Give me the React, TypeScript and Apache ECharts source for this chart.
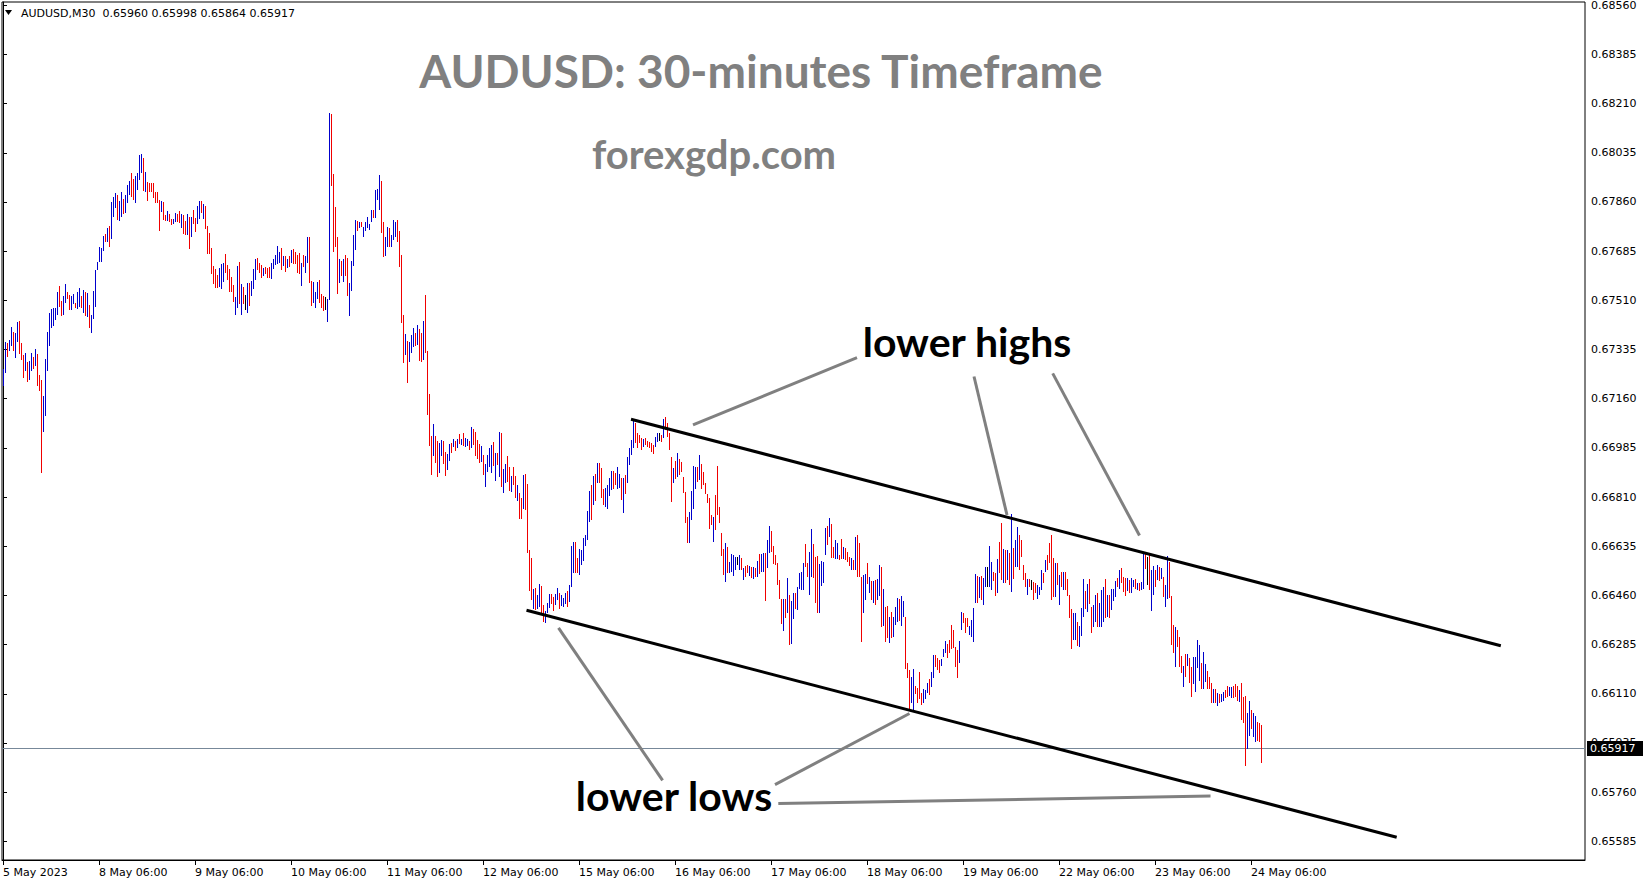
import React, { useEffect, useRef } from "react";
import * as echarts from "echarts";

// Prices are stored in points (0.00001) above PRICE_BASE.
const PRICE_BASE = 0.65;
const POINT = 0.00001;

const highs = [
  2265,2360,2358,2369,2414,2397,2393,2432,2437,2358,
  2316,2322,2292,2295,2322,2310,2336,2320,2244,2227,
  2170,2301,2397,2464,2479,2482,2482,2541,2562,2507,
  2524,2567,2541,2528,2526,2533,2500,2540,2553,2527,
  2547,2540,2535,2494,2458,2543,2618,2645,2699,2696,
  2739,2745,2767,2775,2860,2877,2891,2885,2864,2897,
  2870,2885,2921,2936,2962,2941,2951,2962,3028,3031,
  3016,2968,2930,2929,2927,2927,2897,2895,2868,2864,
  2859,2814,2828,2818,2800,2800,2820,2818,2828,2818,
  2814,2794,2818,2805,2807,2832,2802,2847,2864,2864,
  2852,2846,2775,2749,2698,2633,2622,2600,2626,2639,
  2644,2675,2634,2621,2594,2565,2521,2632,2645,2568,
  2559,2529,2573,2571,2579,2621,2656,2660,2644,2636,
  2626,2630,2624,2628,2642,2656,2672,2704,2683,2695,
  2666,2666,2657,2666,2689,2692,2683,2672,2680,2644,
  2672,2668,2736,2736,2580,2577,2541,2577,2583,2532,
  2526,2523,2514,3176,3173,2960,2843,2734,2657,2650,
  2657,2672,2660,2571,2650,2743,2796,2794,2788,2790,
  2772,2788,2808,2782,2832,2832,2903,2905,2956,2935,
  2787,2737,2772,2766,2743,2796,2790,2796,2755,2672,
  2458,2390,2366,2362,2387,2411,2395,2422,2408,2395,
  2436,2529,2330,2177,2027,2070,2027,2011,2004,2013,
  2010,1972,1963,1999,2004,2016,2011,2016,2034,2016,
  2037,2021,2016,2011,2058,2052,2043,2013,1999,1992,
  1960,1928,1960,1983,1995,2005,1966,1966,2040,2037,
  1909,1928,1956,1918,1885,1916,1885,1853,1823,1808,
  1889,1892,1857,1622,1592,1482,1485,1462,1501,1494,
  1426,1406,1432,1465,1465,1456,1465,1485,1470,1462,
  1450,1470,1477,1497,1636,1651,1651,1592,1624,1622,
  1663,1675,1762,1833,1853,1885,1892,1932,1932,1912,
  1838,1841,1853,1877,1904,1904,1895,1918,1892,1877,
  1877,1889,1954,1983,2013,2087,2072,2037,2031,2019,
  2015,2019,2010,2007,2001,1995,2025,2037,2037,2031,
  2087,2096,2072,2037,1954,1912,1938,1968,1946,1936,
  1883,1829,1738,1758,1833,1921,1918,1918,1960,1927,
  1900,1859,1821,1806,1746,1738,1817,1921,1776,1683,
  1624,1646,1634,1580,1606,1603,1596,1598,1604,1592,
  1557,1565,1568,1565,1562,1560,1557,1583,1607,1607,
  1610,1612,1657,1707,1690,1637,1604,1574,1515,1447,
  1446,1446,1521,1462,1441,1470,1470,1489,1541,1543,
  1577,1643,1577,1616,1697,1643,1598,1600,1572,1584,
  1580,1701,1707,1734,1714,1634,1657,1646,1604,1660,
  1634,1628,1616,1598,1592,1586,1669,1675,1645,1527,
  1533,1536,1576,1524,1512,1512,1515,1517,1568,1562,
  1483,1420,1422,1384,1402,1384,1420,1450,1446,1458,
  1441,1384,1218,1195,1168,1198,1138,1129,1189,1112,
  1126,1123,1147,1161,1189,1248,1248,1236,1230,1234,
  1268,1299,1287,1301,1355,1337,1278,1266,1299,1402,
  1399,1378,1378,1351,1372,1414,1536,1529,1524,1529,
  1521,1560,1560,1636,1580,1544,1538,1588,1651,1716,
  1624,1622,1622,1610,1750,1628,1657,1705,1675,1657,
  1568,1541,1517,1517,1515,1509,1505,1497,1491,1550,
  1538,1586,1604,1645,1675,1592,1576,1576,1533,1544,
  1544,1544,1517,1461,1410,1396,1399,1367,1351,1414,
  1517,1477,1501,1517,1418,1426,1461,1470,1432,1479,
  1491,1517,1461,1461,1482,1482,1512,1521,1550,1556,
  1524,1521,1521,1515,1521,1515,1517,1505,1505,1509,
  1612,1607,1598,1604,1550,1565,1550,1568,1560,1556,
  1524,1497,1600,1580,1458,1355,1346,1337,1313,1244,
  1209,1251,1251,1236,1206,1242,1240,1301,1284,1218,
  1260,1216,1192,1171,1149,1126,1126,1114,1109,1109,
  1117,1123,1138,1133,1133,1138,1145,1138,1123,1149,
  1100,1102,1043,1085,1052,1043,1031,1011,1007,998,
];

const lows = [
  2206,2251,2310,2331,2346,2329,2305,2360,2320,2298,
  2232,2260,2221,2227,2260,2267,2275,2206,2189,1897,
  2040,2099,2260,2346,2410,2419,2441,2458,2488,2456,
  2458,2501,2514,2476,2476,2497,2482,2479,2488,2482,
  2464,2455,2452,2413,2395,2444,2488,2618,2645,2648,
  2684,2716,2716,2701,2730,2808,2840,2796,2793,2808,
  2819,2820,2856,2885,2879,2868,2858,2903,2939,2962,
  2900,2896,2862,2894,2894,2873,2856,2856,2758,2826,
  2796,2794,2794,2790,2779,2781,2790,2790,2784,2767,
  2747,2743,2743,2693,2737,2782,2752,2782,2800,2820,
  2800,2764,2675,2675,2604,2569,2553,2553,2559,2551,
  2577,2606,2583,2541,2541,2505,2458,2482,2497,2458,
  2497,2476,2466,2490,2526,2549,2583,2618,2609,2591,
  2597,2604,2591,2591,2586,2621,2634,2639,2644,2618,
  2632,2610,2624,2630,2642,2639,2638,2609,2604,2562,
  2630,2606,2644,2573,2491,2502,2484,2514,2500,2484,
  2473,2476,2434,2511,2917,2683,2701,2533,2573,2597,
  2577,2597,2526,2454,2545,2632,2689,2757,2766,2770,
  2737,2757,2766,2760,2787,2802,2802,2867,2832,2749,
  2663,2666,2701,2701,2699,2725,2737,2719,2628,2431,
  2288,2317,2217,2292,2324,2345,2347,2352,2295,2292,
  2298,2324,2103,1993,1889,1956,1932,1883,1897,1956,
  1928,1886,1906,1938,1966,1987,1975,1986,1999,1995,
  1992,1989,1992,1978,1983,1995,1957,1946,1932,1934,
  1889,1847,1900,1918,1897,1921,1868,1924,1883,1847,
  1826,1859,1863,1833,1829,1853,1806,1797,1731,1731,
  1768,1764,1610,1477,1444,1411,1408,1411,1418,1396,
  1367,1361,1396,1414,1428,1406,1426,1444,1411,1423,
  1418,1428,1418,1438,1491,1541,1541,1541,1533,1568,
  1584,1636,1657,1720,1728,1782,1797,1859,1859,1806,
  1780,1774,1768,1814,1835,1838,1853,1839,1841,1800,
  1752,1821,1859,1924,1960,1983,2001,1983,2001,1977,
  1989,1995,1989,1983,1971,1963,1989,2007,2010,2007,
  2019,2049,2025,1977,1794,1861,1873,1883,1889,1900,
  1826,1717,1648,1648,1729,1767,1838,1865,1871,1838,
  1853,1820,1788,1695,1711,1651,1693,1746,1719,1600,
  1533,1509,1541,1539,1545,1529,1551,1568,1551,1551,
  1515,1527,1539,1529,1521,1517,1525,1527,1536,1545,
  1545,1441,1557,1610,1616,1572,1568,1497,1446,1358,
  1335,1379,1396,1284,1287,1375,1410,1408,1482,1480,
  1480,1562,1527,1462,1527,1521,1432,1396,1396,1494,
  1503,1604,1640,1669,1592,1592,1589,1589,1586,1589,
  1589,1586,1580,1565,1550,1550,1550,1527,1527,1295,
  1396,1444,1501,1467,1444,1434,1426,1444,1458,1346,
  1351,1295,1307,1292,1307,1313,1355,1367,1370,1351,
  1384,1197,1165,1052,1076,1050,1109,1076,1090,1070,
  1076,1090,1112,1106,1135,1165,1206,1195,1183,1209,
  1242,1254,1236,1254,1268,1272,1206,1165,1218,1337,
  1363,1327,1346,1319,1313,1295,1432,1432,1450,1444,
  1426,1491,1491,1489,1479,1512,1458,1467,1538,1515,
  1503,1503,1515,1497,1473,1517,1560,1562,1550,1598,
  1515,1491,1461,1491,1479,1444,1467,1446,1461,1479,
  1505,1544,1550,1576,1444,1455,1453,1497,1426,1491,
  1479,1479,1458,1381,1268,1301,1301,1280,1275,1316,
  1382,1410,1402,1429,1327,1349,1367,1349,1346,1349,
  1367,1378,1382,1378,1408,1441,1453,1489,1482,1505,
  1473,1458,1477,1470,1467,1489,1482,1479,1477,1479,
  1482,1553,1497,1479,1406,1461,1491,1515,1512,1517,
  1453,1418,1446,1450,1284,1254,1206,1278,1206,1183,
  1133,1171,1209,1147,1100,1145,1117,1200,1157,1126,
  1126,1153,1126,1126,1076,1076,1076,1066,1076,1082,
  1085,1094,1100,1102,1094,1094,1097,1085,1082,1017,
  1005,853,912,960,983,957,940,943,940,864,
];

// one letter per bar: u = bullish (blue), d = bearish (red), n = unchanged (black)
const dirs = [
  "uuduuduudd","duduududdd","uuuuuuuudd","uudduuduud","ududuuuuuu",
  "ududuuuduu","duuudduuuu","dudddddddu","ddudduuddu","ddududduud",
  "uddddddduu","uddddduudu","dnuduuuddd","uddduuuuud","udududdddu",
  "duudduuudd","dnuuddddud","udduuuudud","uuuuuduuud","duuduuuddd",
  "duduuududd","uddddudduu","dduudududu","duududdddu","duuuududud",
  "uudduddudd","udddduduud","duuudduudu","uuduuudduu","uuuudududd",
  "duuuudduud","uduuuudddd","uddddduund","uddddududd","ddduuuudud",
  "dddddudddd","duduuuunud","uddudududu","uduudddddd","ududuuduuu",
  "udduuddduu","uududduudd","udddududdd","uudududuud","udduduuudu",
  "uddduudddd","uuuduudddu","uudddddduu","ddduuuudud","uunuuddudd",
  "udududuudd","ddudndduuu","duddddudud","udddduuduu","ududduuduu",
  "ududuuudud","dduduududu","udnduududu","duuddduddd","ududduuuud",
  "uudddududu","udduudddud","dduuduuddd",
];

const tickIndex = [0, 48, 96, 144, 192, 240, 288, 336, 384, 432, 480, 528, 576, 624];
const tickLabels = [
  "5 May 2023", "8 May 06:00", "9 May 06:00", "10 May 06:00", "11 May 06:00",
  "12 May 06:00", "15 May 06:00", "16 May 06:00", "17 May 06:00", "18 May 06:00",
  "19 May 06:00", "22 May 06:00", "23 May 06:00", "24 May 06:00",
];

const priceTicks = [
  0.6856, 0.68385, 0.6821, 0.68035, 0.6786, 0.67685, 0.6751, 0.67335, 0.6716,
  0.66985, 0.6681, 0.66635, 0.6646, 0.66285, 0.6611, 0.65935, 0.6576, 0.65585,
];

const lastBar = { open: 0.6596, high: 0.65998, low: 0.65864, close: 0.65917 };

// channel lines: [bar index, price]
const upperChannel = [[314, 0.670867], [748.9, 0.662811]];
const lowerChannel = [[261.75, 0.664071], [696.85, 0.655997]];

const X_MIN = -0.5;
const X_MAX = 791;

const UP = "#0000cc";
const DOWN = "#f00000";
const FLAT = "#000000";

export default function App() {
  const ref = useRef<HTMLDivElement>(null);

  useEffect(() => {
    if (!ref.current) return;
    const chart = echarts.init(ref.current, null, { renderer: "svg" });
    const dirString = dirs.join("");
    const barData = highs.map((h, i) => {
      const c = dirString[i];
      return [
        i,
        Number((PRICE_BASE + lows[i] * POINT).toFixed(5)),
        Number((PRICE_BASE + h * POINT).toFixed(5)),
        c === "u" ? 1 : c === "d" ? -1 : 0,
      ];
    });

    const renderBar = (params: any, api: any) => {
      const i = api.value(0);
      const lo = api.value(1);
      const hi = api.value(2);
      const code = api.value(3);
      const top = api.coord([i, hi]);
      const bottom = api.coord([i, lo]);
      const x = Math.floor(top[0] + 0.01) + 0.5;
      const y1 = Math.round(top[1]);
      const y2 = Math.max(y1 + 1, Math.round(bottom[1]));
      return {
        type: "line",
        shape: { x1: x, y1, x2: x, y2 },
        style: { stroke: code > 0 ? UP : code < 0 ? DOWN : FLAT, lineWidth: 1, lineCap: "butt" },
      };
    };

    const fmt = (v: number) => v.toFixed(5);
    const header = `AUDUSD,M30  ${fmt(lastBar.open)} ${fmt(lastBar.high)} ${fmt(lastBar.low)} ${fmt(lastBar.close)}`;

    const gray = "#808080";
    const annot = (x1: number, y1: number, x2: number, y2: number) => ({
      type: "line",
      z: 20,
      shape: { x1, y1, x2, y2 },
      style: { stroke: gray, lineWidth: 3 },
    });

    chart.setOption({
      animation: false,
      backgroundColor: "#ffffff",
      grid: {
        left: 2,
        top: 2,
        right: 64,
        bottom: 24,
        show: true,
        borderColor: "#000",
        borderWidth: 1,
        containLabel: false,
        outerBoundsMode: "none",
      },
      xAxis: {
        type: "value",
        min: X_MIN,
        max: X_MAX,
        position: "bottom",
        splitLine: { show: false },
        axisLine: { show: true, lineStyle: { color: "#000", width: 1 } },
        axisTick: { show: true, customValues: tickIndex, length: 5, lineStyle: { color: "#000" } },
        axisLabel: {
          customValues: tickIndex,
          formatter: (v: number) => {
            const k = tickIndex.indexOf(Math.round(v));
            return k >= 0 ? tickLabels[k] : "";
          },
          align: "left",
          margin: 7,
          color: "#000",
          fontFamily: "DejaVu Sans",
          fontSize: 11,
        },
      },
      yAxis: {
        type: "value",
        position: "right",
        min: 0.655185,
        max: 0.685716,
        splitLine: { show: false },
        axisLine: { show: true, lineStyle: { color: "#000", width: 1 } },
        axisTick: { show: true, customValues: priceTicks, length: 4, lineStyle: { color: "#000" } },
        axisLabel: {
          customValues: priceTicks,
          formatter: (v: number) => v.toFixed(5),
          margin: 6,
          color: "#000",
          fontFamily: "DejaVu Sans",
          fontSize: 11,
        },
      },
      series: [
        {
          type: "custom",
          renderItem: renderBar,
          data: barData,
          encode: { x: 0, y: [1, 2] },
          silent: true,
          z: 2,
        },
        {
          type: "line",
          data: upperChannel,
          showSymbol: false,
          symbol: "none",
          silent: true,
          lineStyle: { color: "#000", width: 3 },
          z: 5,
        },
        {
          type: "line",
          data: lowerChannel,
          showSymbol: false,
          symbol: "none",
          silent: true,
          lineStyle: { color: "#000", width: 3 },
          z: 5,
        },
      ],
    });

    // current price (last close) line and its label box, placed through the y axis scale
    const py = Math.round(chart.convertToPixel({ yAxisIndex: 0 }, lastBar.close) as number);
    const pxL = chart.convertToPixel({ xAxisIndex: 0 }, X_MIN) as number;
    const pxR = chart.convertToPixel({ xAxisIndex: 0 }, X_MAX) as number;

    chart.setOption({
      graphic: [
        {
          type: "line", z: 1,
          shape: { x1: pxL, y1: py + 0.5, x2: pxR, y2: py + 0.5 },
          style: { stroke: "#778899", lineWidth: 1 },
        },
        { type: "polygon", z: 20, shape: { points: [[5, 10], [12, 10], [8.5, 15]] }, style: { fill: "#000" } },
        {
          type: "text", z: 20, x: 21, y: 13,
          style: { text: header, font: '11px "DejaVu Sans"', fill: "#000", verticalAlign: "middle" },
        },
        {
          type: "text", z: 20, x: 761, y: 70,
          style: { text: "AUDUSD: 30-minutes Timeframe", font: "bold 46px Lato", fill: gray, align: "center", verticalAlign: "middle" },
        },
        {
          type: "text", z: 20, x: 714, y: 154,
          style: { text: "forexgdp.com", font: "bold 40px Lato", fill: gray, align: "center", verticalAlign: "middle" },
        },
        {
          type: "text", z: 20, x: 967, y: 341,
          style: { text: "lower highs", font: "bold 41px Lato", fill: "#000", align: "center", verticalAlign: "middle" },
        },
        {
          type: "text", z: 20, x: 674, y: 795,
          style: { text: "lower lows", font: "bold 41px Lato", fill: "#000", align: "center", verticalAlign: "middle" },
        },
        annot(857, 357.6, 693, 424.9),
        annot(974, 376.5, 1007, 515),
        annot(1052.7, 373.4, 1139.5, 535.5),
        annot(662.6, 780.4, 558.5, 627.9),
        annot(775, 784.6, 909.5, 713.5),
        annot(778.3, 803.5, 1210.5, 796.1),
        {
          type: "rect", z: 30,
          shape: { x: 1587, y: py - 7, width: 56, height: 15 },
          style: { fill: "#000" },
        },
        {
          type: "text", z: 31, x: 1590, y: py + 0.5,
          style: { text: fmt(lastBar.close), font: '11px "DejaVu Sans"', fill: "#fff", verticalAlign: "middle" },
        },
      ],
    });

    return () => chart.dispose();
  }, []);

  return (
    <div
      ref={ref}
      style={{ position: "fixed", left: 0, top: 0, width: 1649, height: 884, background: "#fff" }}
    />
  );
}
